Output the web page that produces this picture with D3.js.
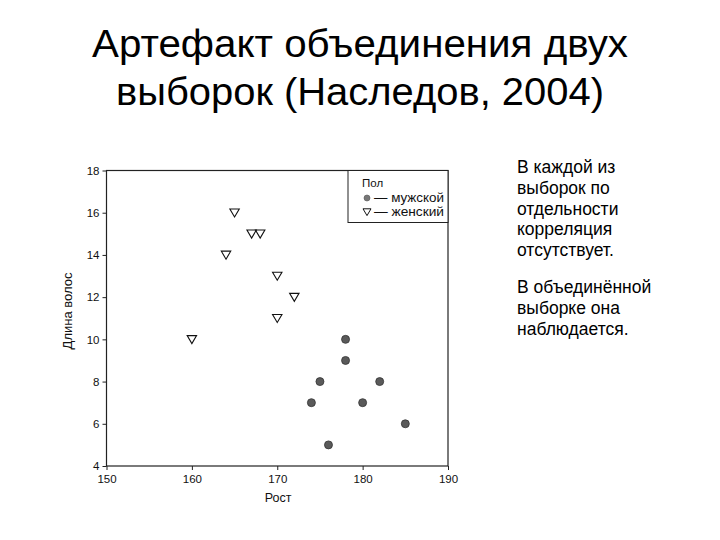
<!DOCTYPE html>
<html><head><meta charset="utf-8">
<script src="https://cdn.jsdelivr.net/npm/d3@7"></script>
<style>body{margin:0;background:#fff;} svg{display:block;}</style>
</head><body>
<svg id="c" width="720" height="540"></svg>
<script>
const titleLines = ["Артефакт объединения двух", "выборок (Наследов, 2004)"];
const noteParagraphs = [["В каждой из","выборок по","отдельности","корреляция","отсутствует."],["В объединённой","выборке она","наблюдается."]];
const femaleX = [165, 167, 168, 164, 170, 172, 170, 160];
const femaleY = [16, 15, 15, 14, 13, 12, 11, 10];
const maleX = [178, 178, 175, 182, 174, 180, 185, 176];
const maleY = [10, 9, 8, 8, 7, 7, 6, 5];
const xTicks = [150, 160, 170, 180, 190];
const yTicks = [4, 6, 8, 10, 12, 14, 16, 18];
const xLabel = "Рост", yLabel = "Длина волос";
const legendTitle = "Пол", legendItems = ["— мужской", "— женский"];

const svg = d3.select("#c");
const font = "Liberation Sans, Arial, sans-serif";
const L = 106.5, R = 448, T = 170.5, B = 466;
const x = d3.scaleLinear().domain([150, 190]).range([L, R]);
const y = d3.scaleLinear().domain([4, 18]).range([B, T]);

// title
svg.append("g").selectAll("text").data(titleLines).join("text")
  .attr("x", 360).attr("y", (d,i) => 57 + i*48)
  .attr("text-anchor", "middle").attr("font-family", font).attr("font-size", 38)
  .attr("textLength", (d,i) => i === 0 ? 536 : 488).attr("lengthAdjust", "spacingAndGlyphs")
  .attr("fill", "#000").text(d => d);

// frame
svg.append("rect").attr("x", L).attr("y", T).attr("width", R-L).attr("height", B-T)
  .attr("fill", "none").attr("stroke", "#222").attr("stroke-width", 1.2);

const xa = svg.append("g").attr("transform", `translate(0,${B})`)
  .call(d3.axisBottom(x).tickValues(xTicks).tickSize(4).tickFormat(d3.format("d")));
const ya = svg.append("g").attr("transform", `translate(${L},0)`)
  .call(d3.axisLeft(y).tickValues(yTicks).tickSize(4).tickFormat(d3.format("d")));
[xa, ya].forEach(a => {
  a.select(".domain").remove();
  a.selectAll("line").attr("stroke", "#222");
  a.selectAll("text").attr("font-family", font).attr("font-size", 11.5).attr("fill", "#111");
});
xa.selectAll("text").attr("dy", "0.85em");

svg.append("text").attr("x", 278).attr("y", 502).attr("text-anchor", "middle")
  .attr("font-family", font).attr("font-size", 12.5).attr("fill", "#111").text(xLabel);
svg.append("text").attr("transform", `translate(72,311) rotate(-90)`)
  .attr("text-anchor", "middle").attr("font-family", font).attr("font-size", 13)
  .attr("fill", "#111").text(yLabel);

const tri = (cx, cy, s) => `M${cx-s},${cy-s*0.8}L${cx+s},${cy-s*0.8}L${cx},${cy+s*0.9}Z`;

svg.append("g").selectAll("path").data(femaleX.map((v,i)=>[v, femaleY[i]])).join("path")
  .attr("d", d => tri(x(d[0]), y(d[1]), 4.7))
  .attr("fill", "none").attr("stroke", "#111").attr("stroke-width", 1.1);

svg.append("g").selectAll("circle").data(maleX.map((v,i)=>[v, maleY[i]])).join("circle")
  .attr("cx", d => x(d[0])).attr("cy", d => y(d[1])).attr("r", 4)
  .attr("fill", "#5a5a5a").attr("stroke", "#333").attr("stroke-width", 0.8);

// legend
const lg = svg.append("g");
lg.append("rect").attr("x", 348).attr("y", T).attr("width", R-348).attr("height", 52)
  .attr("fill", "#fff").attr("stroke", "#222").attr("stroke-width", 1);
lg.append("text").attr("x", 362).attr("y", 187).attr("font-family", font).attr("font-size", 11.5)
  .attr("fill", "#111").text(legendTitle);
lg.append("circle").attr("cx", 367).attr("cy", 198).attr("r", 3).attr("fill", "#777").attr("stroke", "#555").attr("stroke-width", 0.6);
lg.append("path").attr("d", tri(367, 212, 4)).attr("fill", "none").attr("stroke", "#111").attr("stroke-width", 1);
lg.selectAll("text.li").data(legendItems).join("text").attr("class", "li")
  .attr("x", 374).attr("y", (d,i) => 202 + i*14).attr("font-family", font).attr("font-size", 12)
  .attr("textLength", 70).attr("lengthAdjust", "spacingAndGlyphs")
  .attr("fill", "#111").text(d => d);

// notes
const ng = svg.append("g");
let yy = 173;
noteParagraphs.forEach((p, pi) => {
  p.forEach((line, li) => {
    ng.append("text").attr("x", 517).attr("y", yy).attr("font-family", font).attr("font-size", 17.5)
      .attr("fill", "#000").text(line);
    yy += 20.8;
  });
  yy += 16;
});
</script>
</body></html>
